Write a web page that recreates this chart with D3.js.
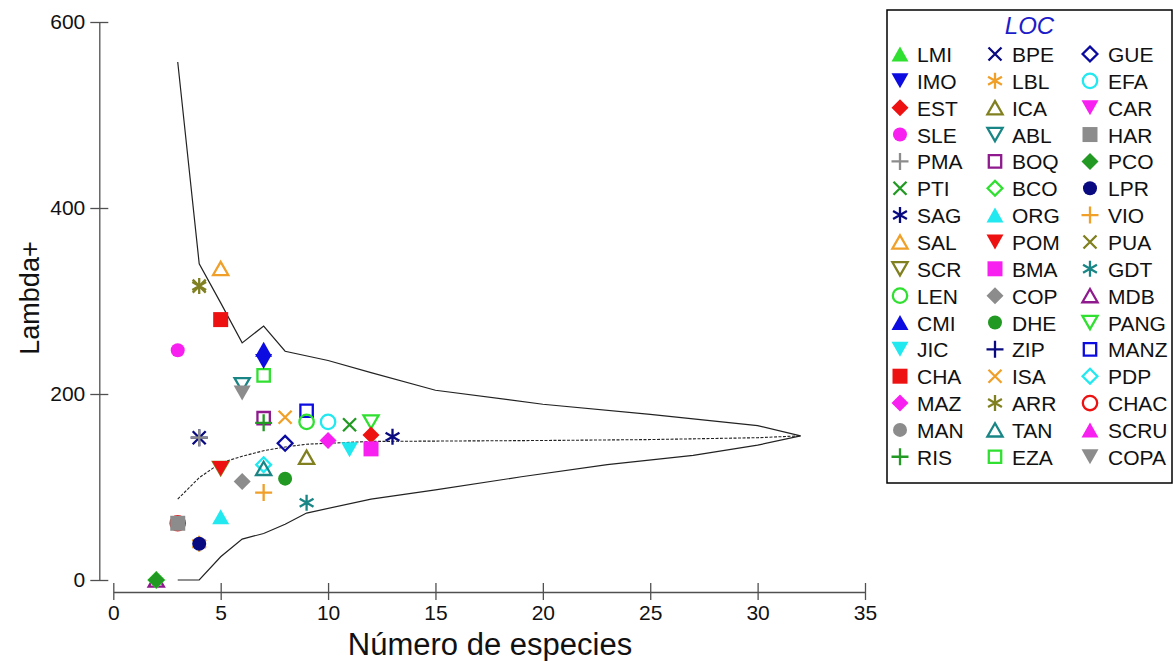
<!DOCTYPE html>
<html>
<head>
<meta charset="utf-8">
<script src="https://cdn.jsdelivr.net/npm/d3@7"></script>
<style>
  body { margin: 0; background: #fff; }
  svg { display: block; }
  text { font-family: "Liberation Sans", Arial, sans-serif; }
</style>
</head>
<body>
<svg id="chart" width="1174" height="661"></svg>
<script>
// Sites, in legend order (three columns of sixteen)
const sites = [
  "LMI","IMO","EST","SLE","PMA","PTI","SAG","SAL","SCR","LEN","CMI","JIC","CHA","MAZ","MAN","RIS",
  "BPE","LBL","ICA","ABL","BOQ","BCO","ORG","POM","BMA","COP","DHE","ZIP","ISA","ARR","TAN","EZA",
  "GUE","EFA","CAR","HAR","PCO","LPR","VIO","PUA","GDT","MDB","PANG","MANZ","PDP","CHAC","SCRU","COPA"
];
// Number of species per site (null = not plotted)
const speciesCount = [
  null, 7, 12, 3, 4, 11, 13, 5, 5, 9, 7, 11, 5, 10, 3, 7,
  4, 4, 9, 6, 7, 2, 5, 5, 12, 6, 8, 4, 8, 4, 7, 7,
  8, 10, null, 3, 2, 4, 7, 4, 9, 2, 12, 9, 7, 3, null, 6
];
// Lambda+ per site
const lambdaPlus = [
  null, 235, 156, 247, 153, 167, 154, 335, 120, 170, 248, 140, 280, 150, 61, 169,
  153, 39, 132, 210, 174, 0, 68, 120, 141, 106, 109, 153, 175, 316, 120, 220,
  147, 170, null, 61, 0, 39, 94, 316, 83, 0, 170, 182, 124, 61, null, 201
];
// Marker shape and colour per site
const siteShapes = [
  "triUpF","triDownF","diamondF","circleF","plus","cross","star","triUpO","triDownO","circleO","triUpF","triDownF","squareF","diamondF","circleF","plus",
  "cross","star","triUpO","triDownO","squareO","diamondO","triUpF","triDownF","squareF","diamondF","circleF","plus","cross","star","triUpO","squareO",
  "diamondO","circleO","triDownF","squareF","diamondF","circleF","plus","cross","star","triUpO","triDownO","squareO","diamondO","circleO","triUpF","triDownF"
];
const siteColors = [
  "#30e030","#0c0ce0","#ee1111","#f820f0","#8c8c8c","#229922","#0a0a80","#f0a028","#808020","#30e030","#0c0ce0","#22e8f0","#ee1111","#f820f0","#8c8c8c","#229922",
  "#0a0a80","#f0a028","#808020","#1a8585","#8e1a8e","#30e030","#22e8f0","#ee1111","#f820f0","#8c8c8c","#229922","#0a0a80","#f0a028","#808020","#1a8585","#30e030",
  "#0a0aa0","#22e8f0","#f820f0","#8c8c8c","#229922","#0a0a80","#f0a028","#808020","#1a8585","#8e1a8e","#30e030","#0c0ce0","#22e8f0","#ee1111","#f820f0","#8c8c8c"
];

// Expected Lambda+ funnel: upper limit, mean, lower limit
const upperSpecies = [3, 4, 5, 6, 7, 8, 10, 12, 15, 20, 25, 30, 32];
const upperLambda  = [557, 340, 298, 255, 273, 246, 236, 223, 204, 189, 178, 166, 155];
const meanSpecies  = [3, 4, 5, 6, 7, 8, 9, 12, 20, 25, 30, 32];
const meanLambda   = [87, 110, 126, 133, 139, 143, 146, 149, 150, 151, 153, 155];
const lowerSpecies = [3, 4, 5, 6, 7, 8, 9, 12, 15, 19, 23, 27, 30, 32];
const lowerLambda  = [0, 0, 25, 44, 50, 60, 72, 87, 97, 111, 124, 134, 145, 155];

const xTicks = [0, 5, 10, 15, 20, 25, 30, 35];
const yTicks = [0, 200, 400, 600];
const xTitle = "Número de especies";
const yTitle = "Lambda+";
const legendTitle = "LOC";

const svg = d3.select("#chart");
const x = d3.scaleLinear().domain([0, 35]).range([113.3, 865]);
const y = d3.scaleLinear().domain([0, 600]).range([580, 22]);
const axisColor = "#505050";

// Y axis (ticks crossing the axis line)
const gy = svg.append("g").attr("transform", "translate(99.3,0)")
  .call(d3.axisLeft(y).tickValues(yTicks).tickSizeOuter(0).tickSizeInner(9).tickPadding(5));
gy.select(".domain").attr("stroke", axisColor).attr("stroke-width", 1.3);
gy.selectAll(".tick line").attr("stroke", axisColor).attr("stroke-width", 1.3).attr("x1", 9);
gy.selectAll(".tick text").attr("font-size", 21).attr("fill", "#111")
  .attr("font-family", "Liberation Sans, Arial, sans-serif");

// X axis
const gx = svg.append("g").attr("transform", "translate(0,592)")
  .call(d3.axisBottom(x).tickValues(xTicks).tickSizeOuter(0).tickSizeInner(8));
gx.select(".domain").attr("stroke", axisColor).attr("stroke-width", 1.3);
gx.selectAll(".tick line").attr("stroke", axisColor).attr("stroke-width", 1.3).attr("y1", -9);
gx.selectAll(".tick text").attr("font-size", 21).attr("fill", "#111")
  .attr("font-family", "Liberation Sans, Arial, sans-serif")
  .attr("y", 27.5).attr("dy", 0);

// Axis titles
svg.append("text").attr("x", 490).attr("y", 655).attr("text-anchor", "middle")
  .attr("font-size", 31).attr("fill", "#111").text(xTitle);
svg.append("text").attr("transform", "translate(39,298) rotate(-90)").attr("text-anchor", "middle")
  .attr("font-size", 27).attr("fill", "#111").text(yTitle);

// Funnel lines
const line = d3.line().x(d => x(d[0])).y(d => y(d[1]));
svg.append("path").attr("d", line(d3.zip(upperSpecies, upperLambda)))
  .attr("fill", "none").attr("stroke", "#222").attr("stroke-width", 1.2);
svg.append("path").attr("d", line(d3.zip(lowerSpecies, lowerLambda)))
  .attr("fill", "none").attr("stroke", "#222").attr("stroke-width", 1.2);
svg.append("path").attr("d", line(d3.zip(meanSpecies, meanLambda)))
  .attr("fill", "none").attr("stroke", "#222").attr("stroke-width", 1.1).attr("stroke-dasharray", "3,1.5");

// Marker shapes
function markerPath(shape) {
  const s30 = 8 * Math.cos(Math.PI / 6), c30 = 8 * Math.sin(Math.PI / 6);
  switch (shape) {
    case "triUpF":   return "M0,-7.5L8.5,7.5L-8.5,7.5Z";
    case "triDownF": return "M0,7.5L8.5,-7.5L-8.5,-7.5Z";
    case "triUpO":   return "M0,-6.6L7.6,6.6L-7.6,6.6Z";
    case "triDownO": return "M0,6.6L7.6,-6.6L-7.6,-6.6Z";
    case "diamondF": return "M0,-8.5L8.5,0L0,8.5L-8.5,0Z";
    case "diamondO": return "M0,-7.4L7.4,0L0,7.4L-7.4,0Z";
    case "squareF":  return "M-7.5,-7.5H7.5V7.5H-7.5Z";
    case "squareO":  return "M-6.2,-6.2H6.2V6.2H-6.2Z";
    case "circleF":  return d3.symbol(d3.symbolCircle, Math.PI * 7 * 7)();
    case "circleO":  return d3.symbol(d3.symbolCircle, Math.PI * 7.2 * 7.2)();
    case "plus":     return "M-8.5,0H8.5M0,-8.5V8.5";
    case "cross":    return "M-6.5,-6.5L6.5,6.5M-6.5,6.5L6.5,-6.5";
    case "star":     return `M0,-8V8M${-s30},${-c30}L${s30},${c30}M${-s30},${c30}L${s30},${-c30}`;
  }
}
const isFilled = shape => shape.endsWith("F");

function drawMarker(g, shape, color) {
  const p = g.append("path").attr("d", markerPath(shape));
  if (isFilled(shape)) p.attr("fill", color).attr("stroke", "none");
  else p.attr("fill", "none").attr("stroke", color).attr("stroke-width", 2.3);
}

// Data points: outline marks first (last site first), solid marks on top
const points = sites.map((name, i) => ({
  name, shape: siteShapes[i], color: siteColors[i], n: speciesCount[i], v: lambdaPlus[i]
})).filter(d => d.n !== null);
const ordered = points.filter(d => !isFilled(d.shape)).reverse()
  .concat(points.filter(d => isFilled(d.shape)));
const gPts = svg.append("g");
ordered.forEach(d => {
  const g = gPts.append("g").attr("transform", `translate(${x(d.n)},${y(d.v)})`);
  drawMarker(g, d.shape, d.color);
});

// Legend
const lg = svg.append("g");
lg.append("rect").attr("x", 887).attr("y", 10).attr("width", 285).attr("height", 473)
  .attr("fill", "#fff").attr("stroke", "#000").attr("stroke-width", 1.5);
lg.append("text").attr("x", 1029.5).attr("y", 34).attr("text-anchor", "middle")
  .attr("font-size", 24).attr("font-style", "italic").attr("fill", "#1c1cc8").text(legendTitle);
const colMarkX = [900, 995, 1090];
const colTextX = [917, 1012, 1108];
sites.forEach((name, i) => {
  const col = Math.floor(i / 16), row = i % 16;
  const cy = 54 + row * 26.85;
  const g = lg.append("g").attr("transform", `translate(${colMarkX[col]},${cy})`);
  drawMarker(g, siteShapes[i], siteColors[i]);
  lg.append("text").attr("x", colTextX[col]).attr("y", cy + 8).attr("font-size", 21)
    .attr("fill", "#111").text(name);
});
</script>
</body>
</html>
